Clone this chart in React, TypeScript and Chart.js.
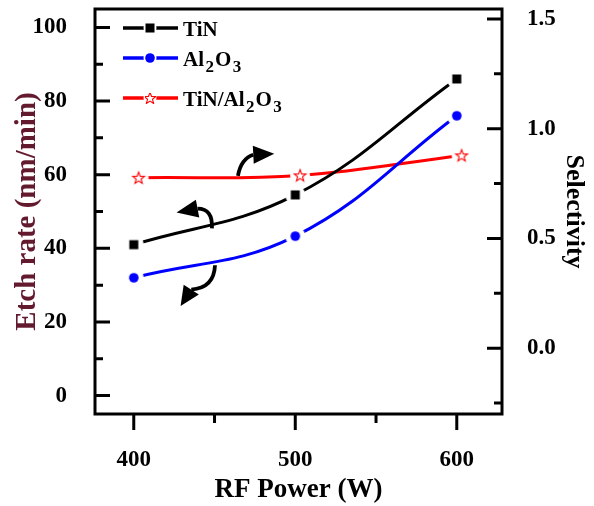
import React, { useEffect, useRef } from 'react';
import { Chart, registerables } from 'chart.js';
Chart.register(...registerables);

// ---- data ----
const powers = [400, 500, 600];
const tinRate = [41, 54.5, 86];
const al2o3Rate = [32, 43.3, 76];
const selPowers = [403, 503, 603];
const selectivity = [0.776, 0.787, 0.878];

const xMajor = [400, 500, 600];
const xMinor = [450, 550];
const leftMajor = [0, 20, 40, 60, 80, 100];
const leftMinor = [10, 30, 50, 70, 90];
const rightMajor = [0, 0.5, 1.0, 1.5];
const rightMinor = [-0.25, 0.25, 0.75, 1.25];

const legendItems = [
  { parts: [{ t: 'TiN', sub: false }], color: '#000000', marker: 'square' },
  { parts: [{ t: 'Al', sub: false }, { t: '2', sub: true }, { t: 'O', sub: false }, { t: '3', sub: true }], color: '#0000ff', marker: 'circle' },
  { parts: [{ t: 'TiN/Al', sub: false }, { t: '2', sub: true }, { t: 'O', sub: false }, { t: '3', sub: true }], color: '#ff0000', marker: 'star' },
];

// annotation arrows (data coords: x = power, y = etch rate)
const arrows = [
  { start: [464.5, 59.7], ctrl: [466.4, 64.3], end: [474.0, 65.4], tip: [487.0, 65.7] },
  { start: [448.4, 45.4], ctrl: [449.1, 50.8], end: [439.5, 50.8], tip: [426.5, 49.7] },
  { start: [450.3, 35.4], ctrl: [449.7, 29.2], end: [435.6, 28.8], tip: [429.0, 24.3] },
];

const FONT = "'Liberation Serif', 'Times New Roman', serif";

function makeMarker(kind: string, halo: boolean): HTMLCanvasElement {
  const c = document.createElement('canvas');
  c.width = 24;
  c.height = 24;
  const g = c.getContext('2d')!;
  const cx = 12, cy = 12;
  if (halo) {
    g.fillStyle = '#ffffff';
    g.beginPath();
    g.arc(cx, cy, 10, 0, Math.PI * 2);
    g.fill();
  }
  if (kind === 'square') {
    g.fillStyle = '#000000';
    g.fillRect(cx - 4.5, cy - 4.5, 9, 9);
  } else if (kind === 'circle') {
    g.fillStyle = '#0000ff';
    g.beginPath();
    g.arc(cx, cy, 4.8, 0, Math.PI * 2);
    g.fill();
  } else {
    g.beginPath();
    for (let i = 0; i < 10; i++) {
      const r = i % 2 === 0 ? 6.2 : 2.6;
      const a = -Math.PI / 2 + (i * Math.PI) / 5;
      const px = cx + r * Math.cos(a);
      const py = cy + 0.5 + r * Math.sin(a);
      if (i === 0) g.moveTo(px, py);
      else g.lineTo(px, py);
    }
    g.closePath();
    g.fillStyle = '#ffffff';
    g.fill();
    g.strokeStyle = '#ff0000';
    g.lineWidth = 1.1;
    g.stroke();
  }
  return c;
}

export default function App() {
  const ref = useRef<HTMLCanvasElement | null>(null);

  useEffect(() => {
    const canvas = ref.current;
    if (!canvas) return;
    const markers: Record<string, HTMLCanvasElement> = {
      square: makeMarker('square', true),
      circle: makeMarker('circle', true),
      star: makeMarker('star', true),
    };

    const framePlugin = {
      id: 'frameTicks',
      afterDraw(chart: any) {
        const ctx = chart.ctx;
        const { left, right, top, bottom } = chart.chartArea;
        const xs = chart.scales.x, yl = chart.scales.y, yr = chart.scales.y1;
        ctx.save();
        ctx.strokeStyle = '#000';
        ctx.lineWidth = 3;
        ctx.lineCap = 'butt';
        ctx.strokeRect(left, top, right - left, bottom - top);
        ctx.beginPath();
        const hTick = (y: number, x0: number, x1: number) => { ctx.moveTo(x0, y); ctx.lineTo(x1, y); };
        const vTick = (x: number, y0: number, y1: number) => { ctx.moveTo(x, y0); ctx.lineTo(x, y1); };
        leftMajor.forEach(v => hTick(yl.getPixelForValue(v), left, left + 15));
        leftMinor.forEach(v => hTick(yl.getPixelForValue(v), left, left + 8));
        rightMajor.forEach(v => hTick(yr.getPixelForValue(v), right, right - 15));
        rightMinor.forEach(v => hTick(yr.getPixelForValue(v), right, right - 8));
        xMajor.forEach(v => vTick(xs.getPixelForValue(v), bottom, bottom + 16));
        xMinor.forEach(v => vTick(xs.getPixelForValue(v), bottom, bottom + 9));
        ctx.stroke();

        // arrows
        ctx.lineWidth = 3.8;
        ctx.fillStyle = '#000';
        arrows.forEach(a => {
          const P = (p: number[]) => [xs.getPixelForValue(p[0]), yl.getPixelForValue(p[1])];
          const s = P(a.start), c = P(a.ctrl), e = P(a.end), t = P(a.tip);
          ctx.beginPath();
          ctx.moveTo(s[0], s[1]);
          ctx.quadraticCurveTo(c[0], c[1], e[0], e[1]);
          ctx.stroke();
          const dx = t[0] - e[0], dy = t[1] - e[1];
          const len = Math.hypot(dx, dy);
          const nx = -dy / len, ny = dx / len;
          const w = 9;
          ctx.beginPath();
          ctx.moveTo(t[0], t[1]);
          ctx.lineTo(e[0] + nx * w, e[1] + ny * w);
          ctx.lineTo(e[0] - nx * w, e[1] - ny * w);
          ctx.closePath();
          ctx.fill();
        });

        // legend
        const rowsY = [top + 19, top + 49, top + 89];
        legendItems.forEach((it, i) => {
          const y = rowsY[i];
          const x0 = left + 28, x1 = left + 83, xm = left + 55;
          ctx.strokeStyle = it.color;
          ctx.lineWidth = 3.5;
          ctx.beginPath();
          ctx.moveTo(x0, y);
          ctx.lineTo(x1, y);
          ctx.stroke();
          const m = markers[it.marker];
          ctx.save();
          ctx.beginPath();
          ctx.fillStyle = '#fff';
          ctx.arc(xm, y, 6.5, 0, Math.PI * 2);
          ctx.fill();
          ctx.restore();
          ctx.drawImage(m, 6.5, 6.5, 11, 11, xm - 5.5, y - 5.5, 11, 11);
          let tx = left + 88;
          ctx.fillStyle = '#000';
          ctx.textBaseline = 'alphabetic';
          ctx.textAlign = 'left';
          it.parts.forEach(p => {
            ctx.font = p.sub ? `bold 17px ${FONT}` : `bold 21px ${FONT}`;
            ctx.fillText(p.t, tx, p.sub ? y + 14 : y + 7.5);
            tx += ctx.measureText(p.t).width + (p.sub ? 1 : 1.5);
          });
        });
        ctx.restore();
      },
    };

    const zeroPad = (s: any) => {
      s.paddingTop = 0;
      s.paddingBottom = 0;
      s.paddingLeft = 0;
      s.paddingRight = 0;
    };

    const chart = new Chart(canvas, {
      type: 'line',
      data: {
        datasets: [
          {
            label: 'TiN',
            data: powers.map((p, i) => ({ x: p, y: tinRate[i] })),
            yAxisID: 'y',
            borderColor: '#000000',
            borderWidth: 3,
            tension: 0.4,
            pointStyle: markers.square,
            pointRadius: 6,
            fill: false,
          },
          {
            label: 'Al2O3',
            data: powers.map((p, i) => ({ x: p, y: al2o3Rate[i] })),
            yAxisID: 'y',
            borderColor: '#0000ff',
            borderWidth: 3,
            tension: 0.4,
            pointStyle: markers.circle,
            pointRadius: 6,
            fill: false,
          },
          {
            label: 'TiN/Al2O3',
            data: selPowers.map((p, i) => ({ x: p, y: selectivity[i] })),
            yAxisID: 'y1',
            borderColor: '#ff0000',
            borderWidth: 3,
            tension: 0.4,
            pointStyle: markers.star,
            pointRadius: 6,
            fill: false,
          },
        ],
      },
      options: {
        responsive: false,
        animation: false,
        layout: { padding: { top: 7, left: 0, right: 0, bottom: 0 } },
        plugins: { legend: { display: false }, tooltip: { enabled: false } },
        scales: {
          x: {
            type: 'linear',
            min: 376,
            max: 628,
            grid: { display: false },
            border: { display: false },
            ticks: {
              stepSize: 100,
              includeBounds: false,
              padding: 24,
              color: '#000',
              font: { family: FONT, size: 23, weight: 'bold' },
            },
            title: {
              display: true,
              text: 'RF Power (W)',
              color: '#000',
              font: { family: FONT, size: 27, weight: 'bold' },
              padding: { top: 0, bottom: 0 },
            },
            afterFit: (s: any) => { s.height = 92; zeroPad(s); },
          },
          y: {
            type: 'linear',
            position: 'left',
            min: -5,
            max: 105,
            grid: { display: false },
            border: { display: false },
            ticks: {
              stepSize: 20,
              includeBounds: false,
              padding: 20,
              color: '#000',
              font: { family: FONT, size: 23, weight: 'bold' },
            },
            title: {
              display: true,
              text: 'Etch rate (nm/min)',
              color: '#641a2e',
              font: { family: FONT, size: 29, weight: 'bold' },
              padding: { top: 10, bottom: 0 },
            },
            afterFit: (s: any) => { s.width = 95; zeroPad(s); },
          },
          y1: {
            type: 'linear',
            position: 'right',
            min: -0.3,
            max: 1.545,
            grid: { display: false },
            border: { display: false },
            ticks: {
              stepSize: 0.5,
              includeBounds: false,
              padding: 17,
              color: '#000',
              font: { family: FONT, size: 23, weight: 'bold' },
              callback: (v: any) => Number(v).toFixed(1),
            },
            title: {
              display: true,
              text: 'Selectivity',
              color: '#000',
              font: { family: FONT, size: 26, weight: 'bold' },
              padding: { top: 5, bottom: 0 },
            },
            afterFit: (s: any) => { s.width = 92; zeroPad(s); },
          },
        },
      },
      plugins: [framePlugin],
    } as any);

    return () => chart.destroy();
  }, []);

  return (
    <div style={{ position: 'absolute', left: 0, top: 0, width: 594, height: 506, background: '#fff' }}>
      <canvas ref={ref} width={594} height={506} style={{ display: 'block', width: 594, height: 506 }} />
    </div>
  );
}
